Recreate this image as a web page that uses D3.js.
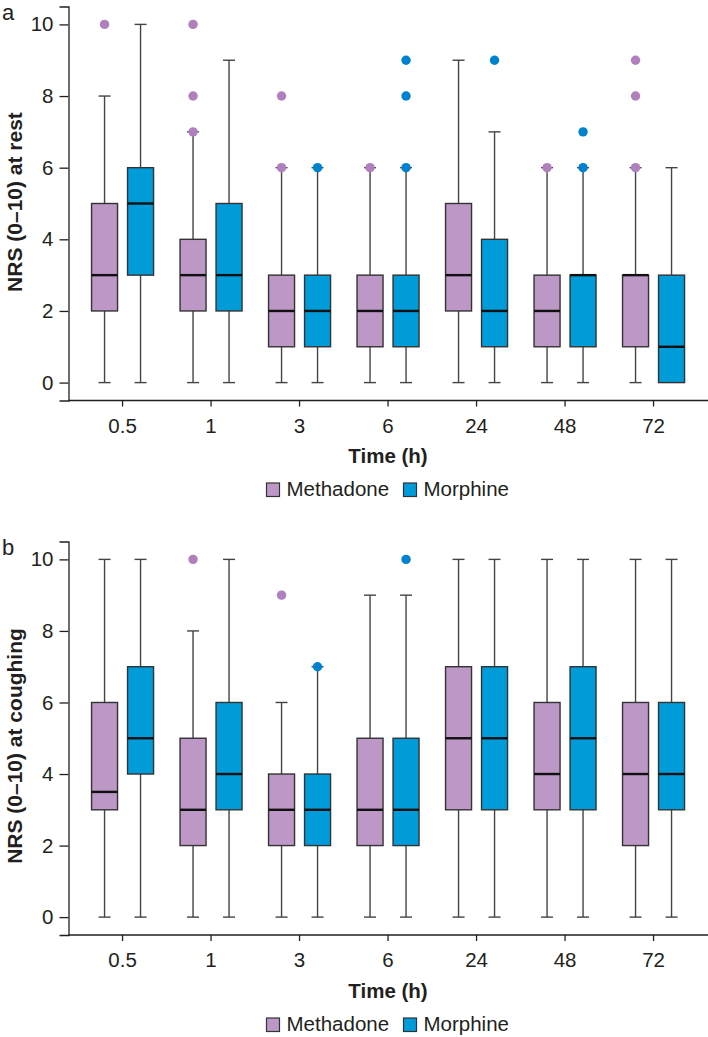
<!DOCTYPE html>
<html><head><meta charset="utf-8">
<script src="https://cdn.jsdelivr.net/npm/d3@7"></script>
<style>
body{margin:0;background:#fff;}
svg text{font-family:"Liberation Sans",Arial,Helvetica,sans-serif;fill:#231f20;}
</style></head>
<body><svg id="c" width="708" height="1037"></svg>
<script>
const times = ["0.5","1","3","6","24","48","72"];
const groups = ["Methadone","Morphine"];
const yTicks = [0,2,4,6,8,10];
// [min, q1, median, q3, max] per time point
const restMethadone = [[0,2,3,5,8],[0,2,3,4,7],[0,1,2,3,6],[0,1,2,3,6],[0,2,3,5,9],[0,1,2,3,6],[0,1,3,3,6]];
const restMorphine  = [[0,3,5,6,10],[0,2,3,5,9],[0,1,2,3,6],[0,1,2,3,6],[0,1,2,4,7],[0,1,3,3,6],[0,0,1,3,6]];
const restMethadoneOut = [[10],[7,8,10],[6,8],[6],[],[6],[6,8,9]];
const restMorphineOut  = [[],[],[6],[6,8,9],[9],[6,7],[]];
const coughMethadone = [[0,3,3.5,6,10],[0,2,3,5,8],[0,2,3,4,6],[0,2,3,5,9],[0,3,5,7,10],[0,3,4,6,10],[0,2,4,6,10]];
const coughMorphine  = [[0,4,5,7,10],[0,3,4,6,10],[0,2,3,4,7],[0,2,3,5,9],[0,3,5,7,10],[0,3,5,7,10],[0,3,4,6,10]];
const coughMethadoneOut = [[],[10],[9],[],[],[],[]];
const coughMorphineOut  = [[],[],[7],[10],[],[],[]];

const fillCol = {Methadone:"#bd97c6", Morphine:"#009cda"};
const dotCol = {Methadone:"#b07fbd", Morphine:"#0083cf"};

const svg = d3.select("#c");
const x = d3.scaleBand().domain(times).range([78.3, 697.8]);
const off = {Methadone:-18, Morphine:18};
const boxW = 26, capW = 12;
const FS = 20.5;

function panel(letter, yRange, title, titleMid, stats, outs, titleBase, legendY){
  const y = d3.scaleLinear().domain([-0.5,10.5]).range(yRange);
  const g = svg.append("g");
  // y axis
  const ya = g.append("g").attr("transform","translate(68.5,0)")
    .call(d3.axisLeft(y).tickValues(yTicks).tickSizeOuter(0).tickSize(9).tickPadding(6));
  ya.select(".domain").attr("stroke","#231f20").attr("stroke-width",1.3);
  ya.selectAll(".tick line").attr("stroke","#231f20").attr("stroke-width",1.3);
  ya.selectAll("text").style("font-size",FS+"px").attr("fill","#231f20");
  // x axis
  const xa = g.append("g").attr("transform",`translate(0,${yRange[0]})`)
    .call(d3.axisBottom(x).tickSize(6).tickPadding(11.5));
  xa.select(".domain").remove();
  xa.selectAll(".tick line").attr("stroke","#231f20").attr("stroke-width",1.3);
  xa.selectAll("text").style("font-size",FS+"px").attr("fill","#231f20");
  g.append("line").attr("x1",68.5).attr("x2",708).attr("y1",yRange[0]).attr("y2",yRange[0])
    .attr("stroke","#231f20").attr("stroke-width",1.3);

  groups.forEach(gr=>{
    times.forEach((t,i)=>{
      const s = stats[gr][i];
      const cx = x(t)+x.bandwidth()/2+off[gr];
      if(s[4]>s[3]){
        g.append("line").attr("x1",cx).attr("x2",cx).attr("y1",y(s[3])).attr("y2",y(s[4])).attr("stroke","#444").attr("stroke-width",1.4);
        g.append("line").attr("x1",cx-capW/2).attr("x2",cx+capW/2).attr("y1",y(s[4])).attr("y2",y(s[4])).attr("stroke","#444").attr("stroke-width",1.4);
      }
      if(s[1]>s[0]){
        g.append("line").attr("x1",cx).attr("x2",cx).attr("y1",y(s[1])).attr("y2",y(s[0])).attr("stroke","#444").attr("stroke-width",1.4);
        g.append("line").attr("x1",cx-capW/2).attr("x2",cx+capW/2).attr("y1",y(s[0])).attr("y2",y(s[0])).attr("stroke","#444").attr("stroke-width",1.4);
      }
      g.append("rect").attr("x",cx-boxW/2).attr("width",boxW)
        .attr("y",y(s[3])).attr("height",y(s[1])-y(s[3]))
        .attr("fill",fillCol[gr]).attr("stroke","#333").attr("stroke-width",1.4);
      g.append("line").attr("x1",cx-boxW/2).attr("x2",cx+boxW/2).attr("y1",y(s[2])).attr("y2",y(s[2]))
        .attr("stroke","#111").attr("stroke-width",2.4);
      outs[gr][i].forEach(v=>{
        g.append("circle").attr("cx",cx).attr("cy",y(v)).attr("r",4.7).attr("fill",dotCol[gr]);
      });
    });
  });

  g.append("text").attr("transform",`translate(22,${titleMid}) rotate(-90)`).attr("text-anchor","middle")
    .style("font-size","21px").attr("font-weight","bold").text(title);
  g.append("text").attr("x",388).attr("y",titleBase).attr("text-anchor","middle")
    .style("font-size",FS+"px").attr("font-weight","bold").text("Time (h)");
  g.append("text").attr("x",2).attr("y",yRange[1]+13.5).style("font-size","22px").text(letter);

  const leg = [{k:"Methadone",x:266.5},{k:"Morphine",x:403.5}];
  leg.forEach(l=>{
    g.append("rect").attr("x",l.x).attr("y",legendY-13).attr("width",13).attr("height",13.5)
      .attr("fill",fillCol[l.k]).attr("stroke","#333").attr("stroke-width",1.2);
    g.append("text").attr("x",l.x+20).attr("y",legendY).style("font-size",FS+"px").text(l.k);
  });
}

panel("a",[400.5,6.5],"NRS (0\u201310) at rest",202,
  {Methadone:restMethadone,Morphine:restMorphine},
  {Methadone:restMethadoneOut,Morphine:restMorphineOut},463,496);
panel("b",[935,541.5],"NRS (0\u201310) at coughing",746,
  {Methadone:coughMethadone,Morphine:coughMorphine},
  {Methadone:coughMethadoneOut,Morphine:coughMorphineOut},998,1031);
</script></body></html>
